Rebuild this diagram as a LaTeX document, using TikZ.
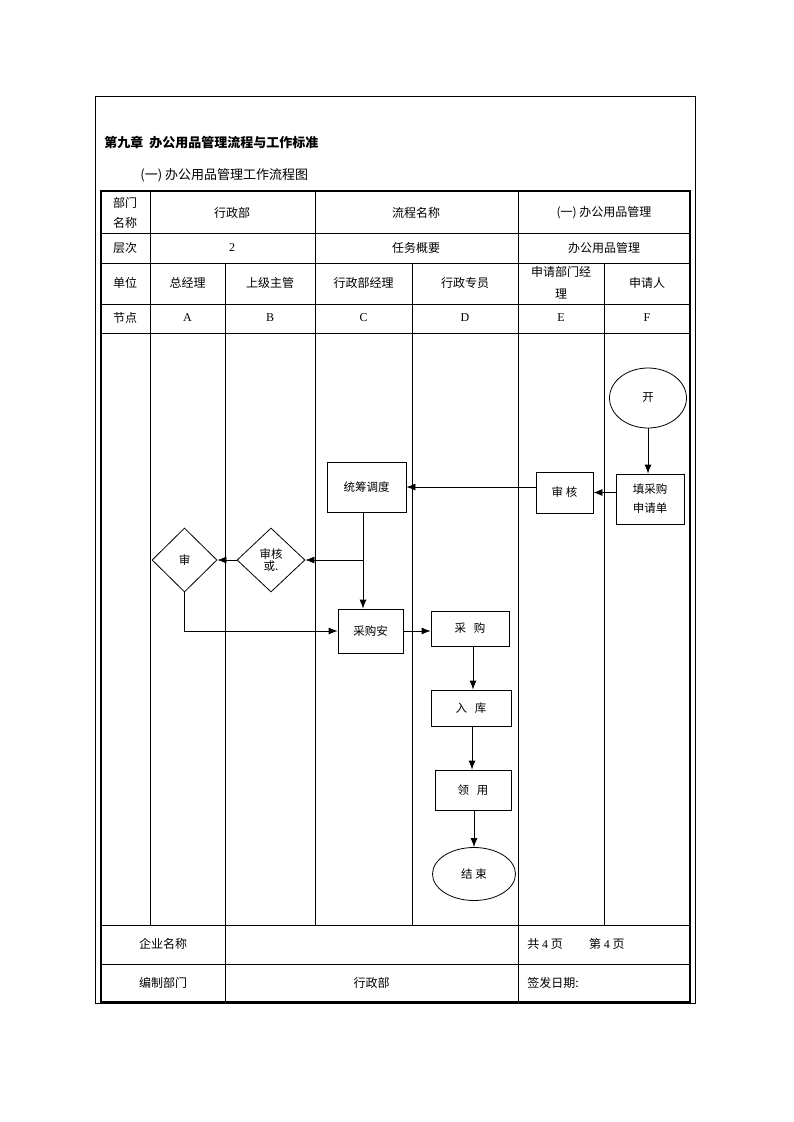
\documentclass[tikz,border=0pt]{standalone}
\usepackage{fontspec}
\setmainfont{Noto Sans CJK SC}
\newfontfamily\lat{Liberation Serif}
\usetikzlibrary{shapes.geometric,arrows.meta}

\begin{document}
\begin{tikzpicture}[x=1pt,y=-1pt,font=\fontsize{12}{20}\selectfont,
	line width=0.8pt,
	cell/.style={inner sep=0pt,align=center},
	box/.style={draw,rectangle,inner sep=0pt,font=\fontsize{11.5}{19}\selectfont,align=center},
	dia/.style={draw,diamond,inner sep=0pt,font=\fontsize{11.5}{12}\selectfont,align=center},
	oval/.style={draw,ellipse,inner sep=0pt,font=\fontsize{11.5}{14}\selectfont},
	arr/.style={-{Latex[length=9pt,width=7pt]}}]
	\useasboundingbox (0,0) rectangle (793,1122);
	\draw (95,96) rectangle (695,1003);
	\node[cell,anchor=west,font=\fontsize{13}{15}\selectfont\bfseries] (title) at (104,143) {第九章\ \ 办公用品管理流程与工作标准};
	\node[cell,anchor=west,font=\fontsize{13}{15}\selectfont] (subtitle) at (140,175) {(一)\ 办公用品管理工作流程图};
	\draw[line width=1.6pt] (101,191) rectangle (690,1002);
	\draw (101,233) -- (690,233);
	\draw (101,263) -- (690,263);
	\draw (101,304) -- (690,304);
	\draw (101,333) -- (690,333);
	\draw (101,925) -- (690,925);
	\draw (101,964) -- (690,964);
	\draw (150,191) -- (150,925);
	\draw (225,263) -- (225,1002);
	\draw (315,191) -- (315,925);
	\draw (412,263) -- (412,925);
	\draw (518,191) -- (518,1002);
	\draw (604,263) -- (604,925);
	\node[cell] (dept) at (125,213) {部门\\名称};
	\node[cell] (deptname) at (232,213) {行政部};
	\node[cell] (flowlbl) at (416,213) {流程名称};
	\node[cell] (flowname) at (604,213) {(一)\ 办公用品管理};
	\node[cell] (level) at (125,248) {层次};
	\node[cell] (levelnum) at (232,248) {\lat 2};
	\node[cell] (tasklbl) at (416,248) {任务概要};
	\node[cell] (taskname) at (604,248) {办公用品管理};
	\node[cell] (unit) at (125,283) {单位};
	\node[cell] (unitA) at (187.5,283) {总经理};
	\node[cell] (unitB) at (270,283) {上级主管};
	\node[cell] (unitC) at (363.5,283) {行政部经理};
	\node[cell] (unitD) at (465,283) {行政专员};
	\node[cell,font=\fontsize{12}{22}\selectfont] (unitE) at (561,283) {申请部门经\\理};
	\node[cell] (unitF) at (647,283) {申请人};
	\node[cell] (node) at (125,318) {节点};
	\node[cell] (colA) at (187.5,318) {\lat A};
	\node[cell] (colB) at (270,318) {\lat B};
	\node[cell] (colC) at (363.5,318) {\lat C};
	\node[cell] (colD) at (465,318) {\lat D};
	\node[cell] (colE) at (561,318) {\lat E};
	\node[cell] (colF) at (647,318) {\lat F};
	\node[cell] (corp) at (163,944) {企业名称};
	\node[cell,anchor=west] (pages) at (527,944) {共 {\lat 4} 页\hspace{2.2em}第 {\lat 4} 页};
	\node[cell] (editor) at (163,983) {编制部门};
	\node[cell] (editorname) at (371.5,983) {行政部};
	\node[cell,anchor=west] (issue) at (527,983) {签发日期:};
	\node[oval,minimum width=77,minimum height=60] (start) at (648,398) {开};
	\node[box,minimum width=68,minimum height=50] (apply) at (650,499) {填采购\\申请单};
	\node[box,minimum width=57,minimum height=41] (check) at (564.5,492.5) {审\ 核};
	\node[box,minimum width=79,minimum height=50] (plan) at (366.5,487) {统筹调度};
	\node[dia,minimum width=68,minimum height=64] (review) at (271,560) {审核\\或.};
	\node[dia,minimum width=65,minimum height=64] (approve) at (184.5,560) {审};
	\node[box,minimum width=65,minimum height=44] (arrange) at (370.5,631) {采购安};
	\node[box,minimum width=78,minimum height=35] (buy) at (470,628.5) {采\ \ \ 购};
	\node[box,minimum width=80,minimum height=36] (store) at (471,708) {入\ \ \ 库};
	\node[box,minimum width=76,minimum height=40] (use) at (473,790) {领\ \ \ 用};
	\node[oval,minimum width=83,minimum height=53] (finish) at (474,874) {结\ 束};
	\coordinate (fork) at (363,560);
	\draw[arr] (start) -- (start |- apply.north);
	\draw[arr] (check.east -| apply.west) -- (check.east);
	\draw[arr] (plan.east -| check.west) -- (plan.east);
	\draw[arr] (plan.south -| fork) -- (arrange.north -| fork);
	\draw[arr] (fork) -- (review.east);
	\draw[arr] (review.west) -- (approve.east);
	\draw[arr] (approve.south) |- (arrange.west);
	\draw[arr] (arrange.east) -- (arrange.east -| buy.west);
	\draw[arr] (buy.south -| 473,0) -- (store.north -| 473,0);
	\draw[arr] (store.south -| 472,0) -- (use.north -| 472,0);
	\draw[arr] (use.south -| 474,0) -- (finish.north);
\end{tikzpicture}
\end{document}
